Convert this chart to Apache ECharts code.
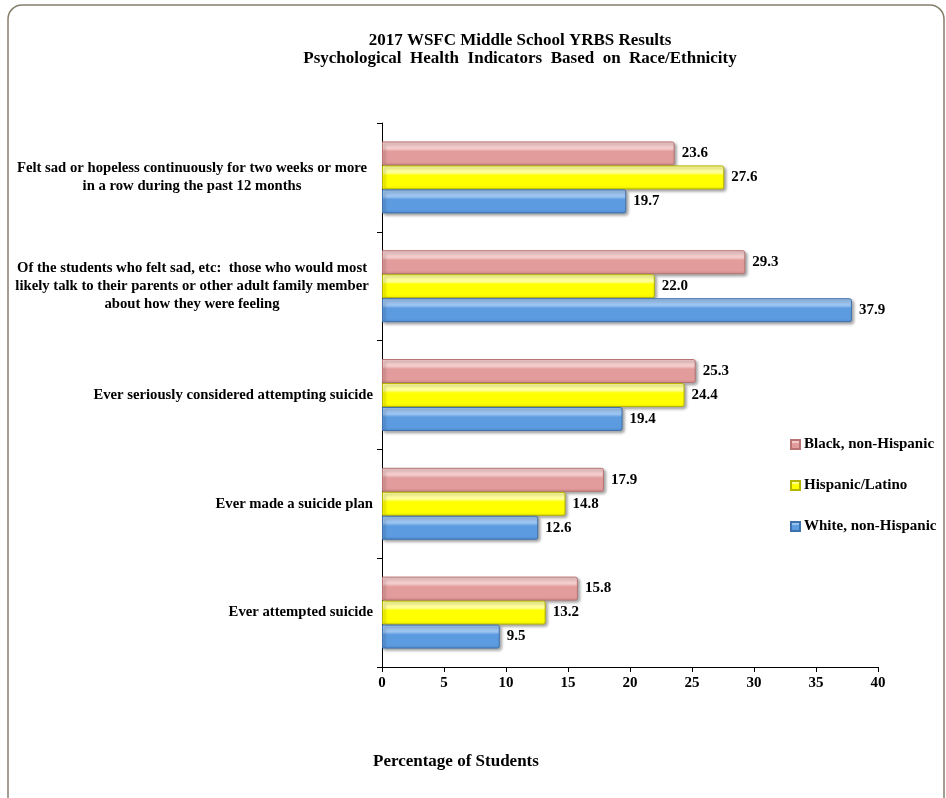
<!DOCTYPE html>
<html>
<head>
<meta charset="utf-8">
<script src="https://cdn.jsdelivr.net/npm/echarts@6/dist/echarts.min.js"></script>
<style>
  html, body { margin: 0; padding: 0; background: #fff; }
  #chart { width: 946px; height: 798px; }
</style>
</head>
<body>
<div id="chart"></div>
<script>
// data
const categories = [
  'Felt sad or hopeless continuously for two weeks or more\nin a row during the past 12 months',
  'Of the students who felt sad, etc:  those who would most\nlikely talk to their parents or other adult family member\nabout how they were feeling',
  'Ever seriously considered attempting suicide',
  'Ever made a suicide plan',
  'Ever attempted suicide'
];
const seriesNames = ['Black, non-Hispanic', 'Hispanic/Latino', 'White, non-Hispanic'];
const blackValues = [23.6, 29.3, 25.3, 17.9, 15.8];
const hispanicValues = [27.6, 22.0, 24.4, 14.8, 13.2];
const whiteValues = [19.7, 37.9, 19.4, 12.6, 9.5];
const xTicks = [0, 5, 10, 15, 20, 25, 30, 35, 40];

const FONT = "'Liberation Serif', 'Times New Roman', serif";

// 3d-ish bar look: light strip on top, base colour below
function barColor(light, base, dark) {
  return new echarts.graphic.LinearGradient(0, 0, 0, 1, [
    { offset: 0, color: light },
    { offset: 0.3, color: light },
    { offset: 0.42, color: base },
    { offset: 0.85, color: base },
    { offset: 1, color: dark }
  ]);
}

const palette = [
  { fill: barColor('#f4cccc', '#e39c9c', '#d18a8a'), border: '#b87474' },
  { fill: barColor('#ffff9a', '#ffff00', '#eeee00'), border: '#b5b500' },
  { fill: barColor('#9cc4f0', '#5d9be0', '#4f8bd0'), border: '#3f72ad' }
];

function makeSeries(name, values, idx) {
  return {
    name: name,
    type: 'bar',
    data: values,
    barWidth: 24,
    barGap: '0%',
    itemStyle: {
      color: palette[idx].fill,
      borderColor: palette[idx].border,
      borderWidth: 1,
      borderRadius: [0, 2, 2, 0],
      shadowColor: 'rgba(0,0,0,0.35)',
      shadowBlur: 3,
      shadowOffsetX: 2,
      shadowOffsetY: 2
    },
    label: {
      show: true,
      position: 'right',
      distance: 7,
      color: '#000',
      fontFamily: FONT,
      fontWeight: 'bold',
      fontSize: 15,
      formatter: p => p.value.toFixed(1)
    }
  };
}

const chart = echarts.init(document.getElementById('chart'));

const option = {
  backgroundColor: '#fff',
  animation: false,
  graphic: [
    {
      type: 'rect',
      shape: { x: 8, y: 5, width: 936, height: 810, r: 14 },
      style: { fill: 'none', stroke: '#857f6c', lineWidth: 1.5 },
      silent: true
    },
    {
      type: 'text',
      x: 520, y: 41,
      style: {
        text: '2017 WSFC Middle School YRBS Results',
        font: 'bold 17px ' + FONT,
        fill: '#000',
        align: 'center',
        verticalAlign: 'middle'
      }
    },
    {
      type: 'text',
      x: 520, y: 59,
      style: {
        text: 'Psychological  Health  Indicators  Based  on  Race/Ethnicity',
        font: 'bold 17px ' + FONT,
        fill: '#000',
        align: 'center',
        verticalAlign: 'middle'
      }
    },
    {
      type: 'text',
      x: 373, y: 762,
      style: {
        text: 'Percentage of Students',
        font: 'bold 17px ' + FONT,
        fill: '#000',
        align: 'left',
        verticalAlign: 'middle'
      }
    }
  ],
  legend: {
    orient: 'vertical',
    left: 790,
    top: 437,
    padding: 0,
    itemWidth: 9,
    itemHeight: 9,
    itemGap: 26,
    icon: 'rect',
    data: seriesNames,
    textStyle: {
      color: '#000',
      fontFamily: FONT,
      fontWeight: 'bold',
      fontSize: 15,
      padding: [0, 0, 0, -1]
    }
  },
  grid: {
    left: 382,
    right: 68,
    top: 123,
    bottom: 131,
    containLabel: false
  },
  xAxis: {
    type: 'value',
    min: xTicks[0],
    max: xTicks[xTicks.length - 1],
    interval: xTicks[1] - xTicks[0],
    axisLine: { show: true, lineStyle: { color: '#000', width: 1 } },
    axisTick: { show: true, length: 5, lineStyle: { color: '#000' } },
    splitLine: { show: false },
    axisLabel: {
      color: '#000',
      fontFamily: FONT,
      fontWeight: 'bold',
      fontSize: 15,
      margin: 9
    }
  },
  yAxis: {
    type: 'category',
    data: categories,
    inverse: true,
    axisLine: { show: true, lineStyle: { color: '#000', width: 1 } },
    axisTick: { show: true, length: 5, lineStyle: { color: '#000' } },
    axisLabel: {
      color: '#000',
      fontFamily: FONT,
      fontWeight: 'bold',
      fontSize: 14.7,
      lineHeight: 18,
      margin: 9,
      formatter: function (v) {
        const lines = v.split('\n');
        if (lines.length === 1) return v;
        return lines.map(l => '{m|' + l + '}').join('\n');
      },
      rich: {
        m: {
          width: 362,
          align: 'center',
          color: '#000',
          fontFamily: FONT,
          fontWeight: 'bold',
          fontSize: 14.7,
          lineHeight: 18
        }
      }
    }
  },
  series: [
    makeSeries(seriesNames[0], blackValues, 0),
    makeSeries(seriesNames[1], hispanicValues, 1),
    makeSeries(seriesNames[2], whiteValues, 2)
  ]
};

chart.setOption(option);
</script>
</body>
</html>
